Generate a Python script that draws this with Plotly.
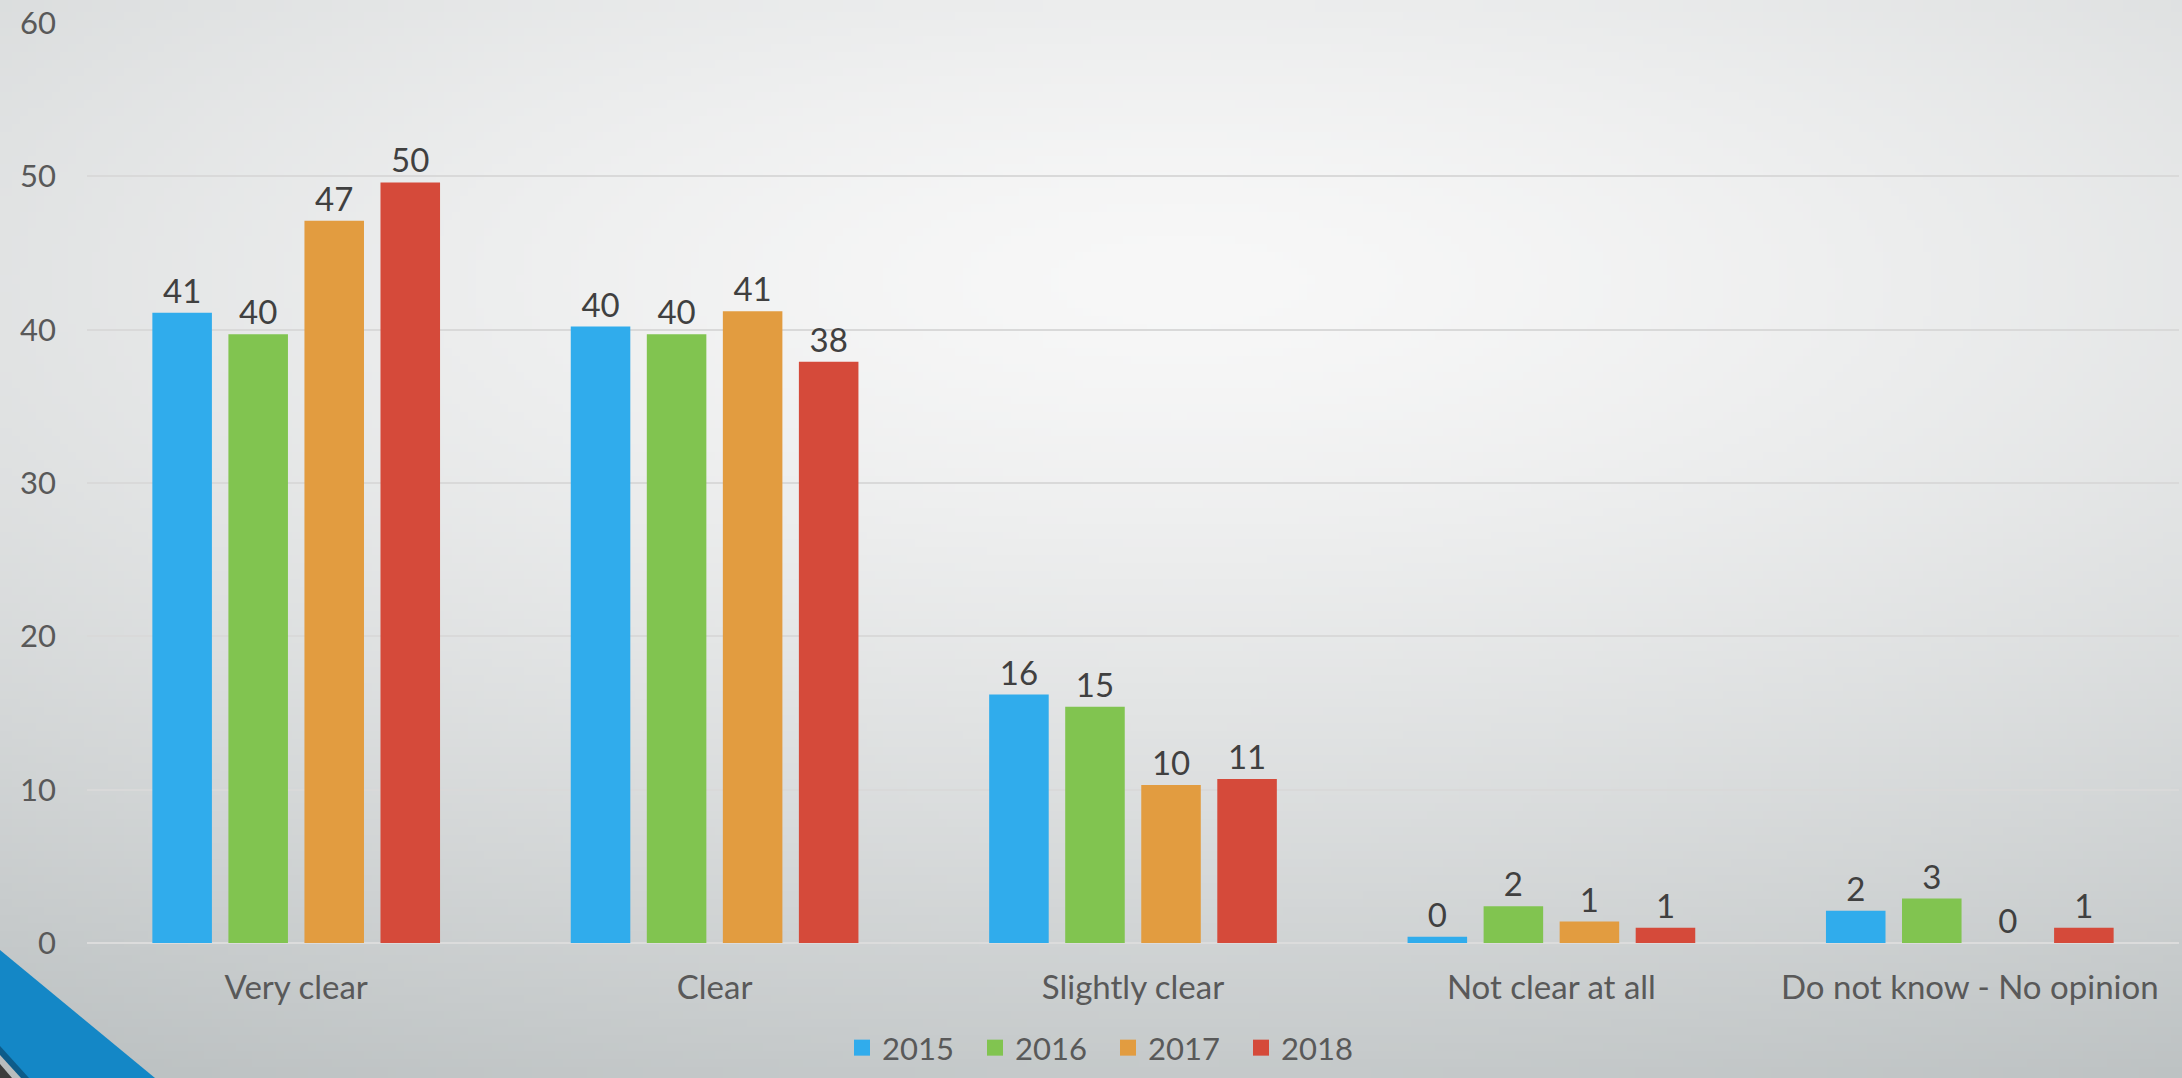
import base64, struct, zlib
import numpy as np
import plotly.graph_objects as go

categories = ["Very clear", "Clear", "Slightly clear", "Not clear at all", "Do not know - No opinion"]
years = ["2015", "2016", "2017", "2018"]
v2015 = [41.1, 40.2, 16.2, 0.4, 2.1]
v2016 = [39.7, 39.7, 15.4, 2.4, 2.9]
v2017 = [47.1, 41.2, 10.3, 1.4, 0.0]
v2018 = [49.6, 37.9, 10.7, 1.0, 1.0]
series = [v2015, v2016, v2017, v2018]
colors = ["#30acec", "#81c450", "#e29c40", "#d54a3a"]
y_ticks = [0, 10, 20, 30, 40, 50, 60]

W, H = 2182, 1078
L, R, T, B = 87, 3, 23, 135
PW, PH = W - L - R, H - T - B

# ---- background gradient image (styling only) ----
gw, gh = 273, 135
xs = np.linspace(0, W, gw)[None, :]
ys = np.linspace(0, H, gh)[:, None]
d = np.sqrt(((xs - 1180) / 2400.0) ** 2 + ((ys - 280) / 900.0) ** 2)
t = np.clip(d, 0, 1) ** 1.4
light = np.array([248, 248, 248], float)
dark = np.array([188, 193, 194], float)
img = (light[None, None, :] * (1 - t[..., None]) + dark[None, None, :] * t[..., None]).astype(np.uint8)

def to_png(a):
    h, w, _ = a.shape
    raw = b"".join(b"\x00" + a[r].tobytes() for r in range(h))
    def chunk(tp, data):
        return struct.pack(">I", len(data)) + tp + data + struct.pack(">I", zlib.crc32(tp + data) & 0xFFFFFFFF)
    return (b"\x89PNG\r\n\x1a\n" + chunk(b"IHDR", struct.pack(">IIBBBBB", w, h, 8, 2, 0, 0, 0))
            + chunk(b"IDAT", zlib.compress(raw, 9)) + chunk(b"IEND", b""))

bg_src = "data:image/png;base64," + base64.b64encode(to_png(img)).decode()

def px(x):
    return (x - L) / PW

def py(y):
    return 1 - (y - T) / PH

def poly(pts):
    return "M " + " L ".join(f"{px(a):.5f},{py(b):.5f}" for a, b in pts) + " Z"

fig = go.Figure()
for name, vals, col in zip(years, series, colors):
    fig.add_trace(go.Bar(
        x=categories, y=vals, name=name, marker=dict(color=col, line=dict(width=0)),
        texttemplate="%{y:.0f}", textposition="outside", cliponaxis=False,
        textfont=dict(family="Lato", size=33, color="#404040"),
        showlegend=False, hoverinfo="skip",
    ))
for name, col in zip(years, colors):
    fig.add_trace(go.Scatter(
        x=[None], y=[None], mode="markers", name=name,
        marker=dict(symbol="square", size=16, color=col),
    ))

shapes = [
    dict(type="path", xref="paper", yref="paper", path=poly([(0, 950), (155, H), (0, H)]),
         fillcolor="#1487c6", line=dict(width=0), layer="above"),
    dict(type="path", xref="paper", yref="paper", path=poly([(0, 1046), (29, H), (0, H)]),
         fillcolor="#0d5c8a", line=dict(width=0), layer="above"),
    dict(type="path", xref="paper", yref="paper", path=poly([(0, 1055), (21, H), (0, H)]),
         fillcolor="#b9bdbe", line=dict(width=0), layer="above"),
    dict(type="path", xref="paper", yref="paper", path=poly([(0, 1064), (12, H), (0, H)]),
         fillcolor="#3c3c3c", line=dict(width=0), layer="above"),
]

fig.update_layout(
    width=W, height=H,
    margin=dict(l=L, r=R, t=T, b=B, pad=0, autoexpand=False),
    paper_bgcolor="#c5c9ca", plot_bgcolor="rgba(0,0,0,0)",
    barmode="group", bargap=0.273, bargroupgap=0.217,
    font=dict(family="Lato", color="#595959"),
    images=[dict(source=bg_src, xref="paper", yref="paper", x=px(0), y=py(0),
                 sizex=W / PW, sizey=H / PH, xanchor="left", yanchor="top",
                 sizing="stretch", layer="below")],
    shapes=shapes,
    xaxis=dict(showgrid=False, showline=False, zeroline=False, ticks="",
               tickfont=dict(family="Lato", size=33, color="#595959"),
               ticklabelstandoff=22, automargin=False),
    yaxis=dict(range=[0, 60], tickvals=y_ticks, showgrid=True, gridcolor="#d9d9d9", gridwidth=1.5,
               zeroline=True, zerolinecolor="#dcdcdc", zerolinewidth=2, showline=False, ticks="",
               tickfont=dict(family="Lato", size=31, color="#595959"), ticklabelstandoff=30,
               automargin=False),
    legend=dict(orientation="h", x=px(1108), xanchor="center", y=py(1075), yanchor="bottom",
                font=dict(family="Lato", size=31, color="#595959"), bgcolor="rgba(0,0,0,0)",
                traceorder="normal", entrywidth=88, entrywidthmode="pixels"),
    showlegend=True,
)

fig.write_html("out.html", config={"displayModeBar": False},
               post_script="document.body.style.margin='0';document.body.style.overflow='hidden';")
